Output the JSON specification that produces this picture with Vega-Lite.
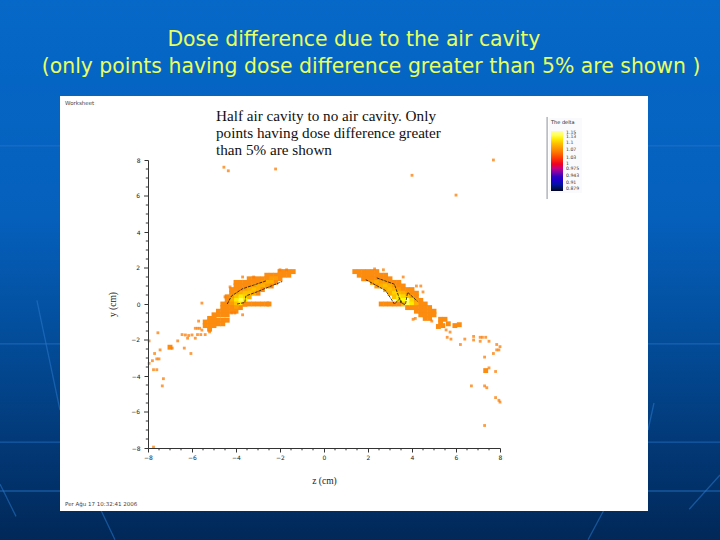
{"$schema":"https://vega.github.io/schema/vega-lite/v6.json","width":352,"height":288,"autosize":{"type":"none"},"padding":{"left":148,"top":160,"right":220,"bottom":92},"background":"#0458a8",
"config":{"view":{"stroke":null},"axis":{"grid":false,"labelOverlap":false,"labelFlush":false}},
"datasets":{
"one":[{"k":1}],
"ymajor":[{"v":6},{"v":2},{"v":-2},{"v":-6}],
"minor":[{"v":-7.5},{"v":-7},{"v":-6.5},{"v":-5.5},{"v":-5},{"v":-4.5},{"v":-3.5},{"v":-3},{"v":-2.5},{"v":-1.5},{"v":-1},{"v":-0.5},{"v":0.5},{"v":1},{"v":1.5},{"v":2.5},{"v":3},{"v":3.5},{"v":4.5},{"v":5},{"v":5.5},{"v":6.5},{"v":7},{"v":7.5}],
"deco":[{"x1":-14.73,"y1":-2.22,"x2":18,"y2":-2.22},{"x1":-14.73,"y1":-7.67,"x2":18,"y2":-7.67},{"x1":-14.73,"y1":-10.39,"x2":18,"y2":-10.39},{"x1":-14.73,"y1":8.78,"x2":18,"y2":8.78},{"x1":-13.05,"y1":0.2,"x2":-12,"y2":-5.9},{"x1":-14.73,"y1":-10,"x2":-14,"y2":-11.8},{"x1":-10.2,"y1":-11.3,"x2":-9.5,"y2":-13.1},{"x1":15,"y1":-5.5,"x2":14.73,"y2":-7},{"x1":12.7,"y1":-11.5,"x2":12,"y2":-13.1},{"x1":18,"y1":-9.5,"x2":16.6,"y2":-11.4}],
"blob":[
{"z":-1.4,"y":1.8,"d":1.07},{"z":-1.6,"y":1.8,"d":1.07},{"z":-1.6,"y":1.6,"d":1.07},{"z":-1.8,"y":1.8,"d":1.07},{"z":-1.8,"y":1.6,"d":1.07},{"z":-2,"y":1.8,"d":1.07},{"z":-2,"y":1.6,"d":1.07},{"z":-2,"y":1.4,"d":1.07},
{"z":-2.2,"y":1.6,"d":1.07},{"z":-2.2,"y":1.4,"d":1.08},{"z":-2.2,"y":1.2,"d":1.07},{"z":-2.4,"y":1.6,"d":1.07},{"z":-2.4,"y":1.4,"d":1.08},{"z":-2.4,"y":1.2,"d":1.09},{"z":-2.4,"y":1,"d":1.07},
{"z":-2.6,"y":1.6,"d":1.07},{"z":-2.6,"y":1.4,"d":1.07},{"z":-2.6,"y":1.2,"d":1.09},{"z":-2.6,"y":1,"d":1.08},{"z":-2.8,"y":1.4,"d":1.07},{"z":-2.8,"y":1.2,"d":1.08},{"z":-2.8,"y":1,"d":1.09},{"z":-2.8,"y":0.8,"d":1.07},
{"z":-3,"y":1.4,"d":1.07},{"z":-3,"y":1.2,"d":1.07},{"z":-3,"y":1,"d":1.09},{"z":-3,"y":0.8,"d":1.09},{"z":-3,"y":0.6,"d":1.07},{"z":-3.2,"y":1.4,"d":1.07},{"z":-3.2,"y":1.2,"d":1.07},{"z":-3.2,"y":1,"d":1.08},{"z":-3.2,"y":0.8,"d":1.1},{"z":-3.2,"y":0.6,"d":1.09},
{"z":-3.4,"y":1.4,"d":1.07},{"z":-3.4,"y":1.2,"d":1.07},{"z":-3.4,"y":1,"d":1.07},{"z":-3.4,"y":0.8,"d":1.09},{"z":-3.4,"y":0.6,"d":1.1},{"z":-3.4,"y":0.4,"d":1.09},
{"z":-3.6,"y":1.2,"d":1.07},{"z":-3.6,"y":1,"d":1.07},{"z":-3.6,"y":0.8,"d":1.08},{"z":-3.6,"y":0.6,"d":1.1},{"z":-3.6,"y":0.4,"d":1.11},{"z":-3.6,"y":0.2,"d":1.12},
{"z":-3.8,"y":1.2,"d":1.07},{"z":-3.8,"y":1,"d":1.07},{"z":-3.8,"y":0.8,"d":1.07},{"z":-3.8,"y":0.6,"d":1.09},{"z":-3.8,"y":0.4,"d":1.12},{"z":-3.8,"y":0.2,"d":1.14},{"z":-3.8,"y":0,"d":1.12},{"z":-3.8,"y":-0.2,"d":1.07},
{"z":-4,"y":1.2,"d":1.07},{"z":-4,"y":1,"d":1.07},{"z":-4,"y":0.8,"d":1.07},{"z":-4,"y":0.6,"d":1.08},{"z":-4,"y":0.4,"d":1.1},{"z":-4,"y":0.2,"d":1.12},{"z":-4,"y":0,"d":1.1},{"z":-4,"y":-0.2,"d":1.08},{"z":-4,"y":-0.4,"d":1.07},
{"z":-4.2,"y":0.8,"d":1.07},{"z":-4.2,"y":0.6,"d":1.07},{"z":-4.2,"y":0.4,"d":1.08},{"z":-4.2,"y":0.2,"d":1.09},{"z":-4.2,"y":0,"d":1.08},{"z":-4.2,"y":-0.2,"d":1.07},{"z":-4.2,"y":-0.4,"d":1.07},
{"z":-4.4,"y":0.4,"d":1.07},{"z":-4.4,"y":0.2,"d":1.07},{"z":-4.4,"y":0,"d":1.07},{"z":-4.4,"y":-0.2,"d":1.07},{"z":-4.4,"y":-0.4,"d":1.07},{"z":-4.4,"y":-0.6,"d":1.07},{"z":-4.4,"y":-0.9,"d":1.07},
{"z":-4.6,"y":0,"d":1.07},{"z":-4.6,"y":-0.2,"d":1.07},{"z":-4.6,"y":-0.4,"d":1.07},{"z":-4.6,"y":-0.6,"d":1.07},{"z":-4.6,"y":-0.9,"d":1.07},{"z":-4.6,"y":-1.1,"d":1.07},{"z":-4.8,"y":-0.4,"d":1.07},{"z":-4.8,"y":-0.6,"d":1.07},{"z":-4.8,"y":-0.9,"d":1.07},{"z":-4.8,"y":-1.1,"d":1.07},
{"z":-5,"y":-0.6,"d":1.07},{"z":-5,"y":-0.8,"d":1.07},{"z":-5,"y":-1,"d":1.07},{"z":-5,"y":-1.2,"d":1.07},{"z":-5.2,"y":-0.8,"d":1.07},{"z":-5.2,"y":-1,"d":1.07},{"z":-5.2,"y":-1.2,"d":1.07},{"z":-5.2,"y":-1.4,"d":1.07},{"z":-5.4,"y":-1,"d":1.07},{"z":-5.4,"y":-1.2,"d":1.07},
{"z":-3.6,"y":-0.02,"d":1.07},{"z":-3.4,"y":0,"d":1.07},{"z":-3.2,"y":0,"d":1.07},{"z":-3,"y":0,"d":1.07},{"z":-2.8,"y":0,"d":1.07},{"z":-2.6,"y":0,"d":1.07},{"z":-2.5,"y":0,"d":1.07},
{"z":1.4,"y":1.8,"d":1.07},{"z":1.6,"y":1.8,"d":1.07},{"z":1.6,"y":1.6,"d":1.07},{"z":1.8,"y":1.8,"d":1.07},{"z":1.8,"y":1.6,"d":1.07},{"z":1.8,"y":1.4,"d":1.07},{"z":2,"y":1.8,"d":1.07},{"z":2,"y":1.6,"d":1.07},{"z":2,"y":1.4,"d":1.07},
{"z":2.2,"y":1.8,"d":1.07},{"z":2.2,"y":1.6,"d":1.07},{"z":2.2,"y":1.4,"d":1.07},{"z":2.2,"y":1.2,"d":1.08},{"z":2.4,"y":1.8,"d":1.07},{"z":2.4,"y":1.6,"d":1.07},{"z":2.4,"y":1.4,"d":1.07},{"z":2.4,"y":1.2,"d":1.09},{"z":2.4,"y":1,"d":1.08},
{"z":2.6,"y":1.6,"d":1.07},{"z":2.6,"y":1.4,"d":1.07},{"z":2.6,"y":1.2,"d":1.08},{"z":2.6,"y":1,"d":1.09},{"z":2.8,"y":1.6,"d":1.07},{"z":2.8,"y":1.4,"d":1.07},{"z":2.8,"y":1.2,"d":1.08},{"z":2.8,"y":1,"d":1.1},{"z":2.8,"y":0.8,"d":1.09},
{"z":3,"y":1.4,"d":1.07},{"z":3,"y":1.2,"d":1.07},{"z":3,"y":1,"d":1.09},{"z":3,"y":0.8,"d":1.1},{"z":3,"y":0.6,"d":1.09},{"z":3.2,"y":1.2,"d":1.07},{"z":3.2,"y":1,"d":1.08},{"z":3.2,"y":0.8,"d":1.09},{"z":3.2,"y":0.6,"d":1.11},{"z":3.2,"y":0.4,"d":1.1},
{"z":3.4,"y":1.2,"d":1.07},{"z":3.4,"y":1,"d":1.07},{"z":3.4,"y":0.8,"d":1.08},{"z":3.4,"y":0.6,"d":1.1},{"z":3.4,"y":0.4,"d":1.12},{"z":3.4,"y":0.2,"d":1.12},{"z":3.6,"y":1,"d":1.07},{"z":3.6,"y":0.8,"d":1.07},{"z":3.6,"y":0.6,"d":1.09},{"z":3.6,"y":0.4,"d":1.11},{"z":3.6,"y":0.2,"d":1.13},{"z":3.6,"y":0,"d":1.1},
{"z":3.8,"y":0.8,"d":1.07},{"z":3.8,"y":0.6,"d":1.08},{"z":3.8,"y":0.4,"d":1.1},{"z":3.8,"y":0.2,"d":1.15},{"z":3.8,"y":0,"d":1.14},{"z":3.8,"y":-0.2,"d":1.07},{"z":4,"y":0.8,"d":1.07},{"z":4,"y":0.6,"d":1.07},{"z":4,"y":0.4,"d":1.08},{"z":4,"y":0.2,"d":1.11},{"z":4,"y":0,"d":1.12},{"z":4,"y":-0.2,"d":1.07},
{"z":4.2,"y":0.6,"d":1.07},{"z":4.2,"y":0.4,"d":1.07},{"z":4.2,"y":0.2,"d":1.08},{"z":4.2,"y":0,"d":1.09},{"z":4.2,"y":-0.2,"d":1.07},{"z":4.2,"y":-0.4,"d":1.07},{"z":4.4,"y":0.2,"d":1.07},{"z":4.4,"y":0,"d":1.07},{"z":4.4,"y":-0.2,"d":1.07},{"z":4.4,"y":-0.4,"d":1.07},{"z":4.4,"y":-0.6,"d":1.07},
{"z":4.6,"y":0,"d":1.07},{"z":4.6,"y":-0.2,"d":1.07},{"z":4.6,"y":-0.4,"d":1.07},{"z":4.6,"y":-0.6,"d":1.07},{"z":4.6,"y":-0.8,"d":1.07},{"z":4.8,"y":-0.2,"d":1.07},{"z":4.8,"y":-0.4,"d":1.07},{"z":4.8,"y":-0.6,"d":1.07},{"z":4.8,"y":-0.8,"d":1.07},{"z":5,"y":-0.4,"d":1.07},{"z":5,"y":-0.6,"d":1.07},
{"z":2.6,"y":0,"d":1.07},{"z":2.8,"y":0,"d":1.07},{"z":3,"y":0,"d":1.07},{"z":3.2,"y":0,"d":1.07},{"z":3.4,"y":0,"d":1.07},
{"z":5.3,"y":-0.85,"d":1.07},{"z":5.5,"y":-0.85,"d":1.07},{"z":5.3,"y":-1.05,"d":1.07},{"z":5.2,"y":-1.25,"d":1.07},{"z":5.4,"y":-1.2,"d":1.07},{"z":5.65,"y":-1.1,"d":1.07},{"z":5.95,"y":-1.2,"d":1.07},{"z":6.15,"y":-1.15,"d":1.07},{"z":-7,"y":-2.4,"d":1.07},{"z":7.35,"y":-3.7,"d":1.07}],
"sparse":[
{"z":7.7,"y":8,"d":1.06},{"z":4,"y":7.15,"d":1.06},{"z":6,"y":6.05,"d":1.06},{"z":-4.55,"y":7.6,"d":1.06},{"z":-4.35,"y":7.4,"d":1.06},{"z":-2.2,"y":7.5,"d":1.06},
{"z":4.9,"y":-0.95,"d":1.06},{"z":4.05,"y":-0.85,"d":1.06},{"z":4.15,"y":-0.8,"d":1.06},{"z":3.6,"y":1.5,"d":1.06},{"z":4.2,"y":1,"d":1.06},{"z":4.4,"y":1,"d":1.06},{"z":4.5,"y":0.67,"d":1.06},{"z":2.3,"y":1.95,"d":1.06},{"z":2.7,"y":1.9,"d":1.06},
{"z":5.55,"y":-1.44,"d":1.06},{"z":5.73,"y":-1.56,"d":1.06},{"z":5.6,"y":-1.85,"d":1.06},{"z":5.77,"y":-1.95,"d":1.06},{"z":6.2,"y":-2.25,"d":1.06},{"z":6.4,"y":-1.95,"d":1.06},{"z":6.8,"y":-1.8,"d":1.06},{"z":6.8,"y":-2,"d":1.06},{"z":7.1,"y":-1.85,"d":1.06},{"z":7.2,"y":-1.85,"d":1.06},{"z":7.35,"y":-1.85,"d":1.06},{"z":7.1,"y":-2.07,"d":1.06},{"z":7.5,"y":-2.07,"d":1.06},{"z":7.85,"y":-2.25,"d":1.06},{"z":8,"y":-2.37,"d":1.06},{"z":7.85,"y":-2.55,"d":1.06},{"z":7.95,"y":-2.55,"d":1.06},{"z":7.7,"y":-2.75,"d":1.06},{"z":7.3,"y":-2.95,"d":1.06},{"z":7.5,"y":-3.55,"d":1.06},{"z":7.8,"y":-3.75,"d":1.06},{"z":6.7,"y":-4.55,"d":1.06},{"z":7.3,"y":-4.55,"d":1.06},{"z":7.4,"y":-4.65,"d":1.06},{"z":7.8,"y":-5.2,"d":1.06},{"z":7.95,"y":-5.35,"d":1.06},{"z":8,"y":-5.45,"d":1.06},{"z":7.3,"y":-6.75,"d":1.06},
{"z":-5.55,"y":0.05,"d":1.06},{"z":-4.27,"y":0.95,"d":1.06},{"z":-4.5,"y":0.4,"d":1.06},{"z":-3.7,"y":1.5,"d":1.06},{"z":-3.2,"y":1.5,"d":1.06},{"z":-2,"y":1.9,"d":1.06},{"z":-1.7,"y":1.9,"d":1.06},
{"z":-5.7,"y":-0.95,"d":1.06},{"z":-7.55,"y":-1.6,"d":1.06},{"z":-7.95,"y":-2.05,"d":1.06},{"z":-7.45,"y":-2.55,"d":1.06},{"z":-6.9,"y":-2.45,"d":1.06},{"z":-6.65,"y":-2.05,"d":1.06},{"z":-6.35,"y":-2.45,"d":1.06},{"z":-6.05,"y":-2.75,"d":1.06},{"z":-7.7,"y":-2.75,"d":1.06},{"z":-7.6,"y":-3.05,"d":1.06},{"z":-7.5,"y":-3.05,"d":1.06},{"z":-7.8,"y":-3.15,"d":1.06},{"z":-7.95,"y":-3.3,"d":1.06},{"z":-7.75,"y":-3.65,"d":1.06},{"z":-7.6,"y":-3.65,"d":1.06},{"z":-7.3,"y":-4.15,"d":1.06},{"z":-7.35,"y":-4.55,"d":1.06},{"z":-7.75,"y":-7.95,"d":1.06},
{"z":-6.45,"y":-1.7,"d":1.06},{"z":-6.3,"y":-1.72,"d":1.06},{"z":-6.15,"y":-1.75,"d":1.06},{"z":-6,"y":-1.72,"d":1.06},{"z":-5.75,"y":-1.7,"d":1.06},{"z":-5.6,"y":-1.7,"d":1.06},{"z":-5.4,"y":-1.7,"d":1.06},{"z":-5.2,"y":-1.55,"d":1.06},{"z":-5.85,"y":-1.9,"d":1.06},{"z":-6.2,"y":-1.9,"d":1.06},{"z":-5.85,"y":-1.35,"d":1.06},{"z":-5.75,"y":-1.35,"d":1.06},{"z":-5.65,"y":-1.35,"d":1.06},{"z":-5.55,"y":-1.45,"d":1.06},{"z":-3.7,"y":-0.6,"d":1.06},{"z":-4.2,"y":-0.5,"d":1.06},{"z":-4.05,"y":-0.5,"d":1.06}],
"contour":[
{"s":"a","z":-1.9,"y":1.25},{"s":"a","z":-2.5,"y":0.95},{"s":"a","z":-3.1,"y":0.65},{"s":"a","z":-3.55,"y":0.45},{"s":"a","z":-3.6,"y":0.08},{"s":"a","z":-3.95,"y":0},
{"s":"b","z":-2.6,"y":1.3},{"s":"b","z":-3.2,"y":1.05},{"s":"b","z":-3.7,"y":0.85},{"s":"b","z":-4.2,"y":0.45},{"s":"b","z":-4.4,"y":0},
{"s":"c","z":1.9,"y":1.35},{"s":"c","z":2.8,"y":0.75},{"s":"c","z":3.45,"y":0.3},{"s":"c","z":3.55,"y":0.05},{"s":"c","z":3.2,"y":0},
{"s":"d","z":2.4,"y":1.45},{"s":"d","z":3.2,"y":1.1},{"s":"d","z":3.8,"y":0.65},{"s":"d","z":4.25,"y":0.15},{"s":"d","z":3.7,"y":-0.03},{"s":"d","z":3.5,"y":0.05}]},
"layer":[
{"data":{"name":"one"},"mark":{"type":"rect","fill":{"gradient":"linear","x1":0,"y1":0,"x2":0,"y2":1,"stops":[{"offset":0,"color":"#0668c8"},{"offset":0.4,"color":"#0560bc"},{"offset":0.6,"color":"#034f9e"},{"offset":0.85,"color":"#023672"},{"offset":1,"color":"#012858"}]}},"encoding":{"x":{"datum":-14.73},"x2":{"datum":18},"y":{"datum":16.89},"y2":{"datum":-13.11}}},
{"data":{"name":"deco"},"mark":{"type":"rule","stroke":"#2a78cc","strokeWidth":1.3,"opacity":0.55},"encoding":{"x":{"field":"x1","type":"quantitative"},"x2":{"field":"x2"},"y":{"field":"y1","type":"quantitative"},"y2":{"field":"y2"}}},
{"data":{"name":"one"},"mark":{"type":"rect","fill":"#ffffff"},"encoding":{"x":{"datum":-12},"x2":{"datum":14.727},"y":{"datum":11.556},"y2":{"datum":-11.5}}},
{"data":{"name":"one"},"mark":{"type":"rule","stroke":"#8a8f99","strokeWidth":1},"encoding":{"x":{"datum":10.14},"y":{"datum":10.39},"y2":{"datum":5.83}}},
{"data":{"name":"minor"},"mark":{"type":"rule","stroke":"#333333","strokeWidth":1},"encoding":{"x":{"field":"v","type":"quantitative"},"y":{"datum":-8},"y2":{"datum":-8.13}}},
{"data":{"name":"minor"},"mark":{"type":"rule","stroke":"#333333","strokeWidth":1},"encoding":{"y":{"field":"v","type":"quantitative"},"x":{"datum":-8},"x2":{"datum":-8.1}}},
{"data":{"name":"ymajor"},"mark":{"type":"rule","stroke":"#333333","strokeWidth":1},"encoding":{"y":{"field":"v","type":"quantitative"},"x":{"datum":-8},"x2":{"datum":-8.18}}},
{"data":{"name":"ymajor"},"mark":{"type":"text","font":"DejaVu Sans","fontSize":6,"fill":"#222222","align":"right","baseline":"middle"},"encoding":{"y":{"field":"v","type":"quantitative"},"x":{"datum":-8.36},"text":{"field":"v","type":"quantitative","format":"d"}}},
{"data":{"name":"blob"},"mark":{"type":"square","size":24,"opacity":1,"filled":true},"encoding":{
"x":{"field":"z","type":"quantitative","scale":{"domain":[-8,8],"nice":false,"zero":false},"title":"z (cm)","axis":{"zindex":1,"values":[-8,-6,-4,-2,0,2,4,6,8],"labelOverlap":false,"labelFontSize":6,"labelFont":"DejaVu Sans","labelColor":"#222222","labelPadding":2,"tickColor":"#333333","domainColor":"#333333","tickSize":4,"titleFont":"Liberation Serif","titleFontSize":9.5,"titleFontWeight":"normal","titleColor":"#222222","titlePadding":15}},
"y":{"field":"y","type":"quantitative","scale":{"domain":[-8,8],"nice":false,"zero":false},"title":"y (cm)","axis":{"zindex":1,"values":[-8,-6,-4,-2,0,2,4,6,8],"labelOverlap":false,"labelFontSize":6,"labelFont":"DejaVu Sans","labelColor":"#222222","labelPadding":4,"tickColor":"#333333","domainColor":"#333333","tickSize":4,"titleFont":"Liberation Serif","titleFontSize":9.5,"titleFontWeight":"normal","titleColor":"#222222","titlePadding":14}},
"color":{"field":"d","type":"quantitative","scale":{"type":"linear","domain":[0.87,0.91,0.94,0.97,1,1.03,1.07,1.1,1.13,1.16],"range":["#000020","#0000cc","#3000c0","#9000a0","#ee0020","#ff3300","#fb8c10","#ffc000","#ffff00","#ffffa0"]},"legend":{"orient":"none","legendX":401,"legendY":-42,"title":"The delta","titleFontSize":5,"titleFont":"DejaVu Sans","titleFontWeight":"normal","titleColor":"#222222","titlePadding":6,"labelFontSize":4.6,"labelFont":"DejaVu Sans","labelColor":"#333333","labelOffset":3,"labelOverlap":false,"format":".3~r","gradientLength":60,"gradientThickness":12,"gradientStrokeWidth":0,"values":[0.879,0.91,0.943,0.975,1,1.03,1.07,1.1,1.13,1.15],"fillColor":"#fafafc","padding":2}}}},
{"data":{"name":"sparse"},"mark":{"type":"square","size":8,"opacity":0.75,"filled":true},"encoding":{"x":{"field":"z","type":"quantitative"},"y":{"field":"y","type":"quantitative"},"color":{"field":"d","type":"quantitative"}}},
{"data":{"name":"contour"},"mark":{"type":"line","stroke":"#111111","strokeWidth":0.8,"strokeDash":[3,1]},"encoding":{"x":{"field":"z","type":"quantitative"},"y":{"field":"y","type":"quantitative"},"detail":{"field":"s"}}},
{"data":{"name":"one"},"mark":{"type":"text","text":"Dose difference due to the air cavity","font":"DejaVu Sans","fontSize":20.4,"fill":"#e8ff60","align":"center","baseline":"middle"},"encoding":{"x":{"datum":1.36},"y":{"datum":14.67}}},
{"data":{"name":"one"},"mark":{"type":"text","text":"(only points having dose difference greater than 5% are shown )","font":"DejaVu Sans","fontSize":20.4,"fill":"#e8ff60","align":"center","baseline":"middle"},"encoding":{"x":{"datum":2.14},"y":{"datum":13.17}}},
{"data":{"name":"one"},"mark":{"type":"text","text":"Half air cavity to no air cavity. Only\npoints having dose difference greater\nthan 5% are shown","lineBreak":"\n","lineHeight":17,"font":"Liberation Serif","fontSize":15.2,"fill":"#111111","align":"left","baseline":"middle"},"encoding":{"x":{"datum":-4.91},"y":{"datum":10.44}}},
{"data":{"name":"one"},"mark":{"type":"text","text":"Worksheet","font":"DejaVu Sans","fontSize":5.5,"fill":"#444444","align":"left","baseline":"middle"},"encoding":{"x":{"datum":-11.77},"y":{"datum":11.17}}},
{"data":{"name":"one"},"mark":{"type":"text","text":"Per Ağu 17 10:32:41 2006","font":"DejaVu Sans","fontSize":5.5,"fill":"#444444","align":"left","baseline":"middle"},"encoding":{"x":{"datum":-11.77},"y":{"datum":-11.11}}}
]}
